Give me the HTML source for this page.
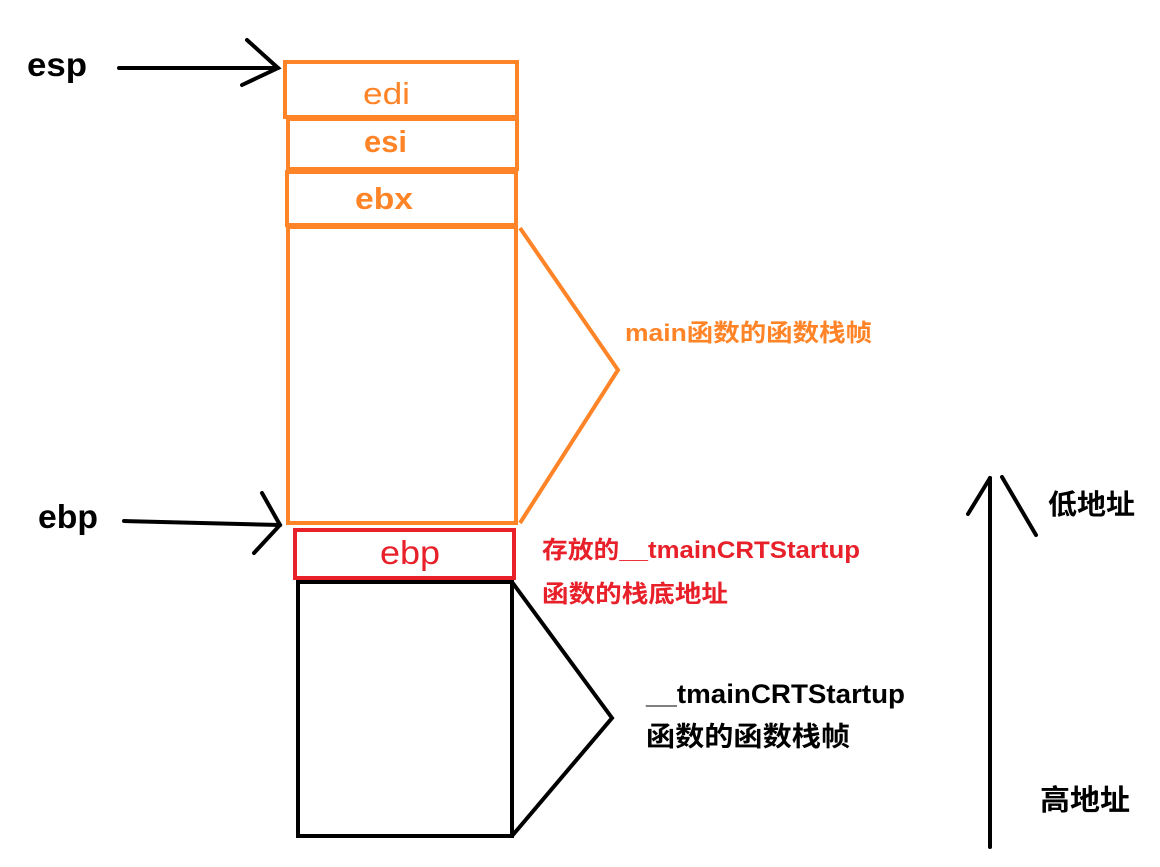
<!DOCTYPE html>
<html><head><meta charset="utf-8"><style>
html,body{margin:0;padding:0;background:#fff;}
svg{display:block;}
text{font-family:"Liberation Sans","Noto Sans CJK SC",sans-serif;}
</style></head><body>
<svg width="1160" height="867" viewBox="0 0 1160 867" xmlns="http://www.w3.org/2000/svg">
<rect width="1160" height="867" fill="#fff"/>
<text x="27" y="76" font-size="33" font-weight="bold" fill="#000" textLength="60" lengthAdjust="spacingAndGlyphs">esp</text>
<g stroke="#000" stroke-width="4" fill="none" stroke-linecap="round">
<line x1="119" y1="68" x2="278" y2="68"/>
<polyline points="247,40 278,68 242,85"/>
<line x1="124" y1="521" x2="280" y2="525"/>
<polyline points="262,493 280,525 254,553"/>
</g>
<g stroke="#FF8427" stroke-width="4" fill="none">
<rect x="285" y="62" width="232" height="55"/>
<rect x="288" y="119" width="229" height="50"/>
<rect x="287" y="172" width="229" height="53"/>
<rect x="288" y="227" width="228" height="296"/>
<polyline points="520,228 618,370 520,523"/>
</g>
<g fill="#FF8427" font-size="31">
<text x="363" y="104" textLength="47" lengthAdjust="spacingAndGlyphs">edi</text>
<text x="364" y="152" font-weight="bold" textLength="43" lengthAdjust="spacingAndGlyphs">esi</text>
<text x="355" y="209" font-weight="bold" textLength="58" lengthAdjust="spacingAndGlyphs">ebx</text>
</g>
<text x="625" y="341" font-size="24" font-weight="bold" fill="#FF8427" textLength="247" lengthAdjust="spacingAndGlyphs">main函数的函数栈帧</text>
<text x="38" y="528" font-size="33" font-weight="bold" fill="#000" textLength="60" lengthAdjust="spacingAndGlyphs">ebp</text>
<rect x="295" y="530" width="219" height="48" stroke="#E8202A" stroke-width="4" fill="none"/>
<text x="380" y="564" font-size="33" fill="#E8202A" textLength="60" lengthAdjust="spacingAndGlyphs">ebp</text>
<text x="542" y="558" font-size="24" font-weight="bold" fill="#E8202A" textLength="318" lengthAdjust="spacingAndGlyphs">存放的__tmainCRTStartup</text>
<text x="542" y="602" font-size="24" font-weight="bold" fill="#E8202A" textLength="186" lengthAdjust="spacingAndGlyphs">函数的栈底地址</text>
<g stroke="#000" stroke-width="4" fill="none">
<rect x="298" y="582" width="214" height="254"/>
<polyline points="512,582 612,718 512,836"/>
</g>
<text x="646" y="703" font-size="27" font-weight="bold" fill="#000" textLength="259" lengthAdjust="spacingAndGlyphs">__tmainCRTStartup</text>
<text x="646" y="746" font-size="27" font-weight="bold" fill="#000" textLength="204" lengthAdjust="spacingAndGlyphs">函数的函数栈帧</text>
<g stroke="#000" stroke-width="4" fill="none" stroke-linecap="round">
<line x1="990" y1="478" x2="990" y2="847"/>
<line x1="968" y1="514" x2="990" y2="478"/>
<line x1="1002" y1="477" x2="1036" y2="535"/>
</g>
<text x="1048" y="514" font-size="28" font-weight="bold" fill="#000" textLength="87" lengthAdjust="spacingAndGlyphs">低地址</text>
<text x="1040" y="810" font-size="29" font-weight="bold" fill="#000" textLength="90" lengthAdjust="spacingAndGlyphs">高地址</text>
</svg>
</body></html>
